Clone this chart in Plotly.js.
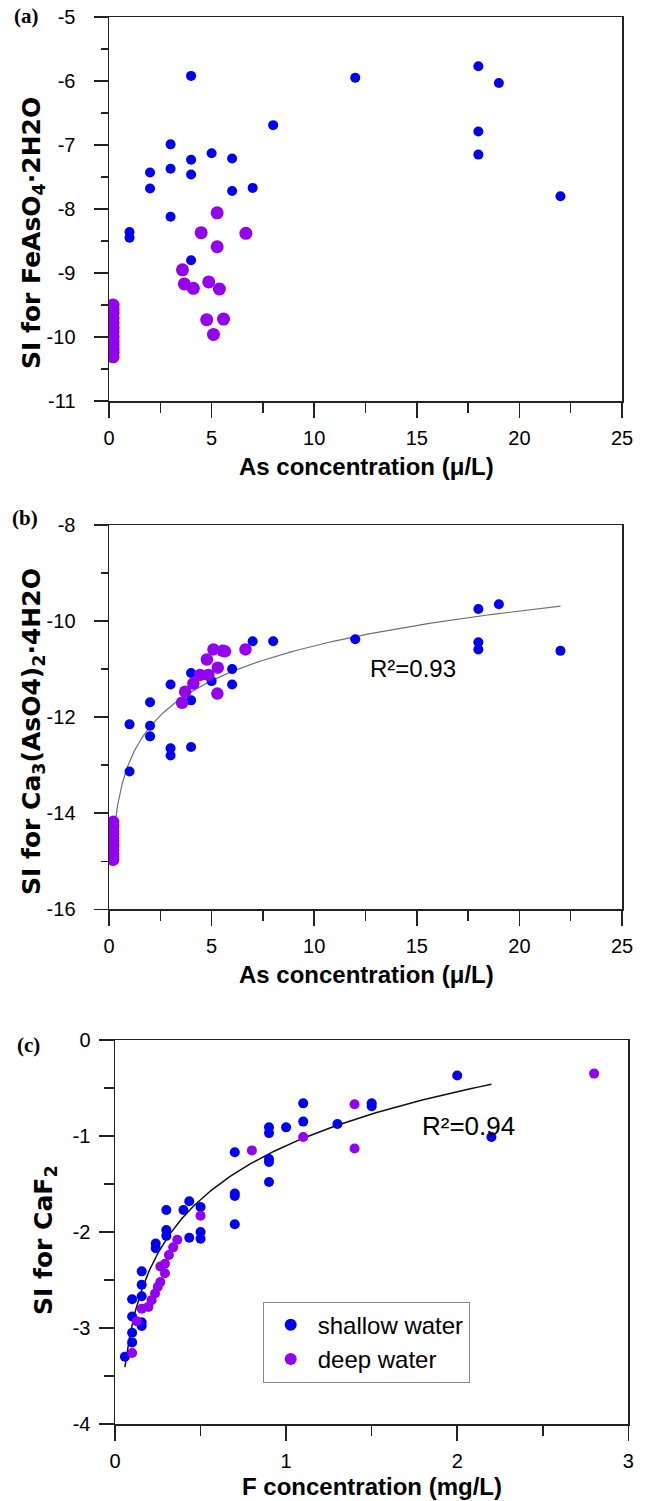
<!DOCTYPE html>
<html>
<head>
<meta charset="utf-8">
<script src="https://cdn.plot.ly/plotly-3.0.1.min.js"></script>
<style>html,body{margin:0;padding:0;background:#fff;}#chart{width:646px;height:1501px;}</style>
</head>
<body>
<div id="chart"></div>
<script>
// ---------- Data: panel (a) SI FeAsO4·2H2O vs As ----------
const shallowA_x = [1,1,2,2,3,3,3,4,4,4,4,5,6,6,7,8,12,18,18,18,19,22];
const shallowA_y = [-8.36,-8.45,-7.43,-7.68,-6.99,-7.37,-8.12,-5.92,-7.23,-7.46,-8.80,-7.13,-7.21,-7.72,-7.67,-6.69,-5.95,-5.77,-6.79,-7.15,-6.03,-7.80];
const deepA_x = [5.27,4.49,6.67,5.27,3.58,3.67,4.11,4.86,5.38,4.76,5.58,5.09,0.2,0.2,0.2,0.2,0.2,0.2,0.2,0.2,0.2,0.2,0.2,0.2,0.2];
const deepA_y = [-8.06,-8.37,-8.38,-8.59,-8.95,-9.17,-9.24,-9.14,-9.25,-9.73,-9.72,-9.96,-9.50,-9.56,-9.62,-9.70,-9.78,-9.86,-9.92,-10.00,-10.06,-10.12,-10.18,-10.24,-10.31];

// ---------- Data: panel (b) SI Ca3(AsO4)2·4H2O vs As ----------
const shallowB_x = [1,1,2,2,2,3,3,3,4,4,4,5,6,6,7,8,12,18,18,18,19,22];
const shallowB_y = [-12.15,-13.13,-11.69,-12.18,-12.40,-11.32,-12.65,-12.80,-11.08,-11.65,-12.62,-11.25,-11.00,-11.32,-10.42,-10.42,-10.38,-9.75,-10.44,-10.59,-9.65,-10.62];
const deepB_x = [5.09,5.54,5.65,6.65,4.77,5.30,4.84,4.44,4.11,3.71,3.56,5.28,0.2,0.2,0.2,0.2,0.2,0.2,0.2,0.2,0.2,0.2,0.2,0.2,0.2];
const deepB_y = [-10.59,-10.62,-10.63,-10.59,-10.80,-10.97,-11.12,-11.12,-11.30,-11.47,-11.70,-11.51,-14.18,-14.25,-14.31,-14.38,-14.44,-14.51,-14.57,-14.64,-14.70,-14.77,-14.84,-14.90,-14.97];

// ---------- Data: panel (c) SI CaF2 vs F ----------
const shallowC_x = [1.10,1.10,1.50,1.50,1.30,1.00,0.90,0.90,0.90,0.90,0.90,0.70,0.70,0.70,0.70,0.434,0.40,0.50,0.30,0.30,0.30,0.434,0.50,0.50,0.238,0.238,0.156,0.156,0.156,0.10,0.10,0.156,0.156,0.10,0.10,0.058,2.00,2.20];
const shallowC_y = [-0.66,-0.85,-0.66,-0.69,-0.875,-0.91,-0.91,-0.97,-1.24,-1.27,-1.48,-1.17,-1.60,-1.625,-1.92,-1.68,-1.77,-1.74,-1.77,-1.98,-2.04,-2.06,-2.00,-2.07,-2.12,-2.17,-2.41,-2.55,-2.67,-2.70,-2.88,-2.94,-2.98,-3.05,-3.15,-3.30,-0.37,-1.01];
const deepC_x = [1.40,1.40,1.10,0.80,0.50,2.80,0.364,0.34,0.315,0.292,0.265,0.292,0.265,0.25,0.234,0.214,0.195,0.156,0.127,0.10];
const deepC_y = [-0.67,-1.13,-1.01,-1.15,-1.83,-0.35,-2.08,-2.16,-2.24,-2.33,-2.36,-2.43,-2.52,-2.57,-2.64,-2.71,-2.78,-2.80,-2.93,-3.26];

// ---------- Logarithmic fits  y = a + b ln(x) ----------
const fitB = {a: -12.926, b: 1.047, xmin: 0.24, xmax: 22, r2: "R²=0.93"};
const fitC = {a: -1.10, b: 0.81, xmin: 0.058, xmax: 2.2, r2: "R²=0.94"};

// ---------- Tick labels ----------
const xTicksAB = [0,5,10,15,20,25];
const yTicksA = [-11,-10,-9,-8,-7,-6,-5];
const yTicksB = [-16,-14,-12,-10,-8];
const xTicksC = [0,1,2,3];
const yTicksC = [-4,-3,-2,-1,0];

const seriesNames = ["shallow water", "deep water"];
const titles = {
  xa: "As concentration (μ/L)",
  xb: "As concentration (μ/L)",
  xc: "F concentration (mg/L)",
  ya: "SI for FeAsO<sub>4</sub>·2H2O",
  yb: "SI for Ca<sub>3</sub>(AsO4)<sub>2</sub>·4H2O",
  yc: "SI for CaF<sub>2</sub>"
};

function fitCurve(f) {
  const xs = [], ys = [];
  const n = 200;
  for (let i = 0; i <= n; i++) {
    const x = Math.exp(Math.log(f.xmin) + (Math.log(f.xmax) - Math.log(f.xmin)) * i / n);
    xs.push(x); ys.push(f.a + f.b * Math.log(x));
  }
  return {xs, ys};
}

const W = 646, H = 1501;
const px = v => v / W;
const py = v => 1 - v / H;
const BLUE = '#0000f5', PURPLE = '#9400f0';
const AX = '#222222';
const tickFont = {family: 'Liberation Sans, Arial, sans-serif', size: 20, color: '#000'};

function axis(opts) {
  return Object.assign({
    showgrid: false, zeroline: false, showline: true, linecolor: AX, linewidth: 1.5,
    mirror: true, ticks: 'outside', tickwidth: 1.5, tickcolor: AX, tickfont: tickFont,
    tickmode: 'array'
  }, opts);
}

const fb = fitCurve(fitB), fc = fitCurve(fitC);

const traces = [
  {x: shallowA_x, y: shallowA_y, xaxis: 'x', yaxis: 'y', mode: 'markers', type: 'scatter', showlegend: false,
   marker: {color: BLUE, size: 10}},
  {x: deepA_x, y: deepA_y, xaxis: 'x', yaxis: 'y', mode: 'markers', type: 'scatter', showlegend: false,
   marker: {color: PURPLE, size: 13}},
  {x: fb.xs, y: fb.ys, xaxis: 'x2', yaxis: 'y2', mode: 'lines', type: 'scatter', showlegend: false,
   line: {color: '#707070', width: 1.2}},
  {x: shallowB_x, y: shallowB_y, xaxis: 'x2', yaxis: 'y2', mode: 'markers', type: 'scatter', showlegend: false,
   marker: {color: BLUE, size: 10}},
  {x: deepB_x, y: deepB_y, xaxis: 'x2', yaxis: 'y2', mode: 'markers', type: 'scatter', showlegend: false,
   marker: {color: PURPLE, size: 12.5}},
  {x: fc.xs, y: fc.ys, xaxis: 'x3', yaxis: 'y3', mode: 'lines', type: 'scatter', showlegend: false,
   line: {color: '#111', width: 1.5}},
  {x: shallowC_x, y: shallowC_y, xaxis: 'x3', yaxis: 'y3', mode: 'markers', type: 'scatter', name: seriesNames[0],
   legendgroup: 'g1', marker: {color: BLUE, size: 10}},
  {x: deepC_x, y: deepC_y, xaxis: 'x3', yaxis: 'y3', mode: 'markers', type: 'scatter', name: seriesNames[1],
   legendgroup: 'g2', marker: {color: PURPLE, size: 10}}
];

const minorX = d => ({ticks: 'outside', ticklen: 10, tickwidth: 1.5, tickcolor: AX, tickmode: 'linear', tick0: 0, dtick: d});
const minorY = d => ({ticks: 'outside', ticklen: 7, tickwidth: 1.5, tickcolor: AX, tickmode: 'linear', tick0: 0, dtick: d});

function ann(text, x, y, font, extra) {
  return Object.assign({text: text, xref: 'paper', yref: 'paper', x: px(x), y: py(y), showarrow: false,
    xanchor: 'center', yanchor: 'middle', font: font}, extra || {});
}
const labelFont = {family: 'Liberation Serif, Times New Roman, serif', size: 21, color: '#000', weight: 'bold'};
const xTitleFont = {family: 'Liberation Sans, Arial, sans-serif', size: 24, color: '#000'};
const yTitleFont = {family: 'DejaVu Sans, sans-serif', size: 25, color: '#000'};

const layout = {
  width: W, height: H, margin: {l: 0, r: 0, t: 0, b: 0},
  paper_bgcolor: '#fff', plot_bgcolor: '#fff',
  font: {family: 'Liberation Sans, Arial, sans-serif', color: '#000'},
  xaxis: axis({domain: [px(109), px(622)], range: [0, 25], anchor: 'y', tickvals: xTicksAB, ticktext: xTicksAB.map(String),
    ticklen: 15, ticklabelstandoff: 3, minor: minorX(2.5)}),
  yaxis: axis({domain: [py(401), py(17)], range: [-11, -5], anchor: 'x', tickvals: yTicksA, ticktext: yTicksA.map(String),
    ticklen: 14, ticklabelstandoff: 14, minor: minorY(0.5)}),
  xaxis2: axis({domain: [px(109), px(622)], range: [0, 25], anchor: 'y2', tickvals: xTicksAB, ticktext: xTicksAB.map(String),
    ticklen: 15, ticklabelstandoff: 3, minor: minorX(2.5)}),
  yaxis2: axis({domain: [py(909.3), py(525)], range: [-16, -8], anchor: 'x2', tickvals: yTicksB, ticktext: yTicksB.map(String),
    ticklen: 14, ticklabelstandoff: 14, minor: minorY(1)}),
  xaxis3: axis({domain: [px(115), px(628.3)], range: [0, 3], anchor: 'y3', tickvals: xTicksC, ticktext: xTicksC.map(String),
    ticklen: 15, ticklabelstandoff: 3, minor: minorX(0.5)}),
  yaxis3: axis({domain: [py(1424), py(1040)], range: [-4, 0], anchor: 'x3', tickvals: yTicksC, ticktext: yTicksC.map(String),
    ticklen: 15, ticklabelstandoff: 4,
    minor: {ticks: 'outside', ticklen: 10, tickwidth: 1.5, tickcolor: AX, tickmode: 'linear', tick0: 0, dtick: 0.5}}),
  showlegend: true,
  legend: {x: px(262.7), y: py(1301.7), xanchor: 'left', yanchor: 'top', bordercolor: '#8a8a8a', borderwidth: 1,
    bgcolor: '#fff', font: {family: 'Liberation Sans, Arial, sans-serif', size: 24, color: '#000'},
    itemwidth: 44, tracegroupgap: 0, itemsizing: 'constant'},
  annotations: [
    ann('(a)', 27, 16, labelFont),
    ann('(b)', 25, 518, labelFont),
    ann('(c)', 28, 1045, labelFont),
    ann('<b>' + titles.xa + '</b>', 366, 466, xTitleFont),
    ann('<b>' + titles.xb + '</b>', 366, 974, xTitleFont),
    ann('<b>' + titles.xc + '</b>', 372, 1486, xTitleFont),
    ann('<b>' + titles.ya + '</b>', 33, 233, yTitleFont, {textangle: -90}),
    ann('<b>' + titles.yb + '</b>', 33, 732, yTitleFont, {textangle: -90}),
    ann('<b>' + titles.yc + '</b>', 45, 1240, yTitleFont, {textangle: -90}),
    {text: fitB.r2, xref: 'x2', yref: 'y2', x: 12.6, y: -10.98, xanchor: 'left', yanchor: 'middle', showarrow: false,
     font: {family: 'Liberation Sans, Arial, sans-serif', size: 24}},
    {text: fitC.r2, xref: 'x3', yref: 'y3', x: 1.78, y: -0.90, xanchor: 'left', yanchor: 'middle', showarrow: false,
     font: {family: 'Liberation Sans, Arial, sans-serif', size: 26}}
  ]
};

Plotly.newPlot('chart', traces, layout, {staticPlot: true, displayModeBar: false});
</script>
</body>
</html>
